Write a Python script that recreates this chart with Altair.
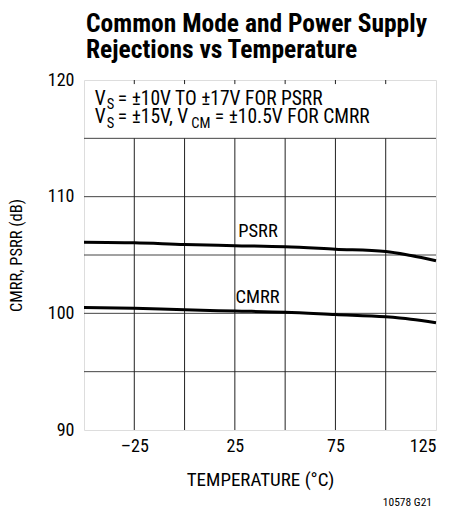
import altair as alt
import pandas as pd

FONT = "Roboto Condensed"

temps = [-50, -25, 0, 25, 50, 75, 100, 112.5, 125]
psrr = [106.1, 106.05, 105.9, 105.8, 105.7, 105.5, 105.3, 104.95, 104.5]
cmrr = [100.5, 100.43, 100.3, 100.2, 100.1, 99.9, 99.7, 99.5, 99.2]

x_ticks = [-25, 25, 75, 125]
y_ticks = [90, 100, 110, 120]
v_grid = [-25, 0, 25, 50, 75, 100]
h_grid = [95, 100, 105, 110, 115]

curve_labels = ["PSRR", "CMRR"]
curve_label_x = [36.5, 36.3]
curve_label_y = [107.1, 101.4]

line1 = ["V", "S", "= ±10V TO ±17V FOR PSRR"]
line2 = ["V", "S", "= ±15V, V", "CM", "= ±10.5V FOR CMRR"]

df = pd.DataFrame(
    {"t": temps * 2, "v": psrr + cmrr, "s": ["PSRR"] * len(temps) + ["CMRR"] * len(temps)}
)

xs = alt.Scale(domain=[-50, 125], nice=False, zero=False)
ys = alt.Scale(domain=[90, 120], nice=False, zero=False)

vg = pd.DataFrame({"x": v_grid, "y": 90, "y2": 115})
vt = pd.DataFrame({"x": v_grid, "y": 120, "y2": 119.65})
hg = pd.DataFrame({"y": h_grid})

grid_v = alt.Chart(vg).mark_rule(color="#222", strokeWidth=1).encode(
    x=alt.X("x:Q", scale=xs), y=alt.Y("y:Q", scale=ys), y2="y2:Q"
)
tick_v = alt.Chart(vt).mark_rule(color="#222", strokeWidth=1).encode(
    x=alt.X("x:Q", scale=xs), y=alt.Y("y:Q", scale=ys), y2="y2:Q"
)
grid_h = alt.Chart(hg).mark_rule(color="#444", strokeWidth=1).encode(
    y=alt.Y("y:Q", scale=ys)
)

lines = alt.Chart(df).mark_line(color="black", strokeWidth=3, interpolate="monotone").encode(
    x=alt.X(
        "t:Q",
        scale=xs,
        axis=alt.Axis(
            values=x_ticks,
            grid=False,
            ticks=False,
            domain=False,
            labelFont=FONT,
            labelFontSize=18,
            labelColor="black",
            labelPadding=7,
            labelExpr="datum.value < 0 ? '\u2013' + abs(datum.value) : datum.label",
            title="TEMPERATURE (°C)",
            titleFont=FONT,
            titleFontSize=19,
            titleFontWeight="normal",
            titleColor="black",
            titlePadding=15,
        ),
    ),
    y=alt.Y(
        "v:Q",
        scale=ys,
        axis=alt.Axis(
            values=y_ticks,
            grid=False,
            ticks=False,
            domain=False,
            labelFont=FONT,
            labelFontSize=18,
            labelColor="black",
            labelPadding=10,
            title="CMRR, PSRR (dB)",
            titleFont=FONT,
            titleFontSize=16.5,
            titleFontWeight="normal",
            titleColor="black",
            titlePadding=23,
        ),
    ),
    detail="s:N",
)

lab = pd.DataFrame({"t": curve_labels, "x": curve_label_x, "y": curve_label_y})
labels = alt.Chart(lab).mark_text(font=FONT, fontSize=18.5, color="black").encode(
    x=alt.X("x:Q", scale=xs), y=alt.Y("y:Q", scale=ys), text="t:N"
)

# note box text
ANCHOR_X = -44.6
L1_Y = 117.86
L2_Y = 116.3
offs1 = [0, 12, 23]
offs2 = [0, 12, 23, 96.5, 120]
subs1 = [False, True, False]
subs2 = [False, True, False, True, False]

note_layers = []
for txts, offs, subs, yy in [(line1, offs1, subs1, L1_Y), (line2, offs2, subs2, L2_Y)]:
    for t, o, sb in zip(txts, offs, subs):
        d = pd.DataFrame({"x": [ANCHOR_X], "y": [yy], "t": [t]})
        note_layers.append(
            alt.Chart(d)
            .mark_text(
                font=FONT,
                fontSize=14.5 if sb else 19.5,
                align="left",
                baseline="alphabetic",
                dx=o,
                dy=4.5 if sb else 0,
                color="black",
            )
            .encode(x=alt.X("x:Q", scale=xs), y=alt.Y("y:Q", scale=ys), text="t:N")
        )

footer = alt.Chart(pd.DataFrame({"t": ["10578 G21"]})).mark_text(
    font=FONT, fontSize=11.5, color="black", align="right", baseline="middle"
).encode(x=alt.value(348), y=alt.value(423), text="t:N")

chart = (
    alt.layer(grid_h, grid_v, tick_v, lines, labels, *note_layers, footer)
    .properties(
        width=352,
        height=350,
        autosize=alt.AutoSizeParams(type="none"),
        padding={"left": 76, "top": 72, "right": 22, "bottom": 79},
        title=alt.TitleParams(
            text=["Common Mode and Power Supply", "Rejections vs Temperature"],
            anchor="start",
            frame="group",
            font=FONT,
            fontSize=25.5,
            fontWeight="bold",
            color="black",
            lineHeight=26,
            offset=8,
            dx=2,
        ),
    )
    .configure_view(stroke="black", strokeWidth=1.5)
    .configure(background="white")
)

chart.save("out.html", embed_options={"renderer": "svg", "actions": False})
